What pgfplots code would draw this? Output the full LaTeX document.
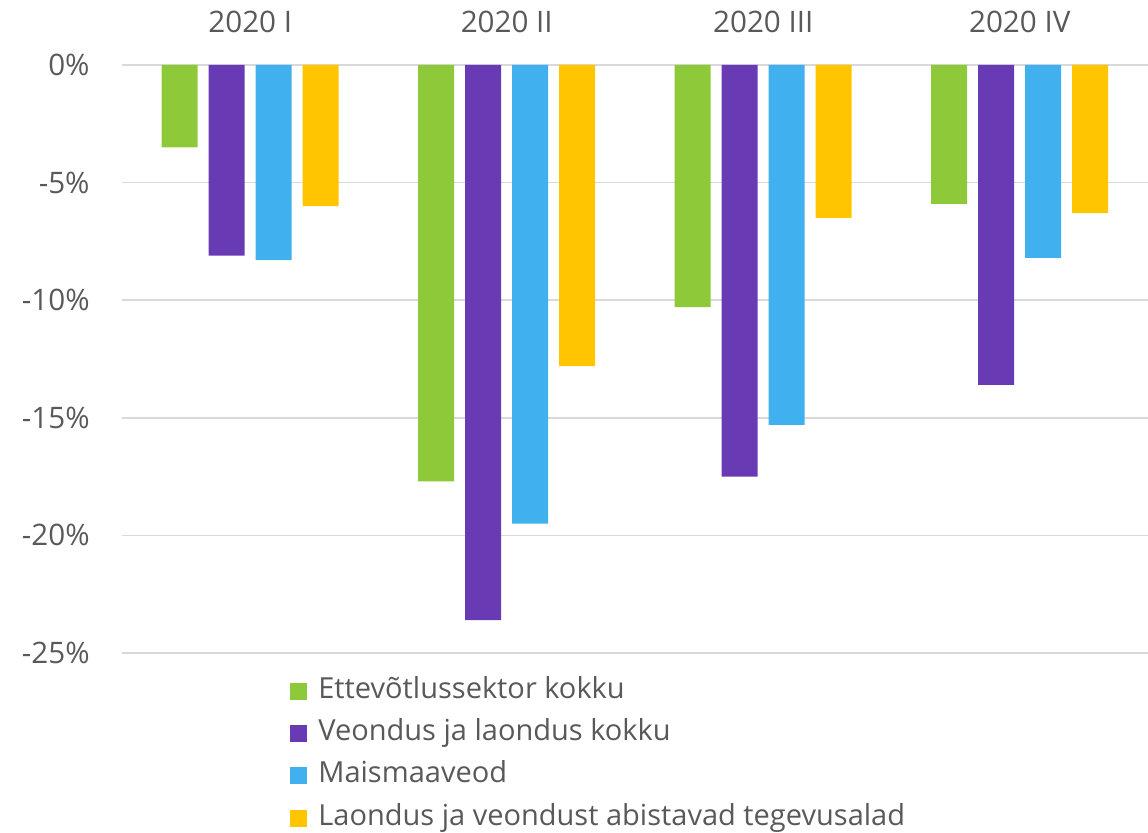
\documentclass[border=0pt]{standalone}
\usepackage{fontspec}
\setmainfont{Open Sans}
\usepackage{pgfplots}
\pgfplotsset{compat=1.18}
\definecolor{cgreen}{RGB}{141,201,56}
\definecolor{cpurple}{RGB}{104,59,181}
\definecolor{cblue}{RGB}{65,176,238}
\definecolor{cyellow}{RGB}{255,198,0}
\definecolor{ctext}{RGB}{89,89,89}
\definecolor{cgrid}{RGB}{217,217,217}

\pgfplotsset{sqleg/.style={legend image code/.code={\fill[##1] (0pt,-4.25pt) rectangle (8.5pt,4.25pt);}}}

\begin{document}
\begin{tikzpicture}[x=1pt,y=1pt]
\useasboundingbox (-61,-90) rectangle (513,326.5);
\begin{axis}[
    at={(0,0)}, anchor=south west,
    scale only axis, width=513pt, height=294pt,
    xmin=-0.5, xmax=3.5, ymin=-25, ymax=0,
    ybar=5.5pt, bar width=18pt,
    xtick={0,1,2,3},
    xticklabels={2020 I, 2020 II, 2020 III, 2020 IV},
    xticklabel pos=upper,
    xticklabel style={anchor=base, yshift=16pt},
    ytick={-25,-20,...,0},
    yticklabel={\pgfmathprintnumber{\tick}\%},
    yticklabel style={anchor=east, inner sep=0pt, xshift=-16pt},
    /pgf/number format/assume math mode=true,
    ymajorgrids,
    grid style={color=cgrid, line width=0.75pt},
    axis line style={draw=none},
    major tick length=0pt,
    tick label style={font=\fontsize{14.8}{17}\selectfont, text=ctext},
    legend cell align=left,
    legend style={at={(0.1637,-0.042)}, anchor=north west, draw=none, fill=none,
        inner sep=0pt, row sep=8.2pt, font=\fontsize{14.5}{17}\selectfont, text=ctext,
        nodes={inner sep=0pt, text height=10pt, text depth=3pt},
        /tikz/every odd column/.style={column sep=5.5pt}},
]
\addplot[fill=cgreen, draw=none, sqleg] coordinates {(0,-3.5) (1,-17.7) (2,-10.3) (3,-5.9)};
\addplot[fill=cpurple, draw=none, sqleg] coordinates {(0,-8.1) (1,-23.6) (2,-17.5) (3,-13.6)};
\addplot[fill=cblue, draw=none, sqleg] coordinates {(0,-8.3) (1,-19.5) (2,-15.3) (3,-8.2)};
\addplot[fill=cyellow, draw=none, sqleg] coordinates {(0,-6.0) (1,-12.8) (2,-6.5) (3,-6.3)};
\legend{Ettevõtlussektor kokku, Veondus ja laondus kokku, Maismaaveod, Laondus ja veondust abistavad tegevusalad}
\end{axis}
\end{tikzpicture}
\end{document}
